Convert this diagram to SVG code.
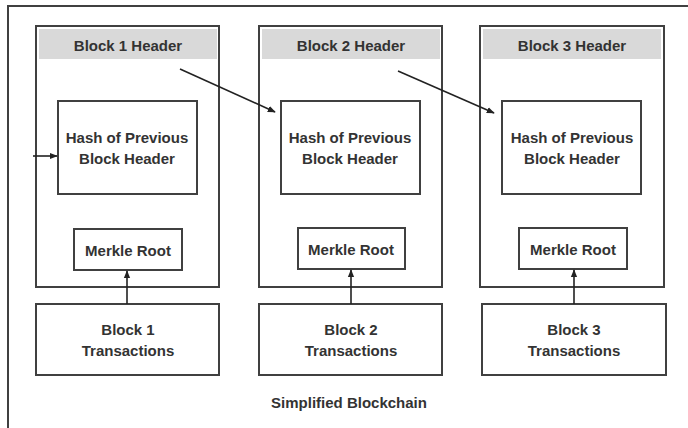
<svg xmlns="http://www.w3.org/2000/svg" width="688" height="428" viewBox="0 0 688 428">
<style>
.box{fill:#fff;stroke:#404040;stroke-width:2}
.hdr{fill:#d9d9d9;stroke:none}
.t{font-family:"Liberation Sans",Arial,sans-serif;font-weight:bold;font-size:15px;fill:#333;text-anchor:middle}
.c{stroke:#222;stroke-width:1.6;fill:none;marker-end:url(#ah)}
</style>
<defs>
<marker id="ah" viewBox="0 0 10 10" refX="9" refY="5" markerWidth="5" markerHeight="5" orient="auto" markerUnits="strokeWidth">
<path d="M0,1 L10,5 L0,9 z" fill="#222"/>
</marker>
</defs>
<rect width="688" height="428" fill="#fff"/>
<path d="M8,440 V6 H700" fill="none" stroke="#404040" stroke-width="2"/>

<g id="block1">
<rect class="box" x="36" y="26" width="183" height="261"/>
<rect class="hdr" x="39" y="29" width="178" height="30"/>
<text class="t" x="128" y="51">Block 1 Header</text>
<g id="hash1"><rect class="box" x="58" y="101" width="139" height="93"/>
<text class="t" x="127" y="143">Hash of Previous</text>
<text class="t" x="127" y="164">Block Header</text></g>
<g id="merkle1"><rect class="box" x="74" y="229" width="108" height="41"/>
<text class="t" x="128" y="256">Merkle Root</text></g>
</g>
<g id="tx1"><rect class="box" x="36" y="304" width="183" height="71"/>
<text class="t" x="128" y="335">Block 1</text>
<text class="t" x="128" y="356">Transactions</text></g>

<g id="block2">
<rect class="box" x="259" y="26" width="183" height="261"/>
<rect class="hdr" x="262" y="29" width="178" height="30"/>
<text class="t" x="351" y="51">Block 2 Header</text>
<g id="hash2"><rect class="box" x="281" y="101" width="139" height="93"/>
<text class="t" x="350" y="143">Hash of Previous</text>
<text class="t" x="350" y="164">Block Header</text></g>
<g id="merkle2"><rect class="box" x="298" y="228" width="107" height="41"/>
<text class="t" x="351" y="255">Merkle Root</text></g>
</g>
<g id="tx2"><rect class="box" x="259" y="304" width="183" height="71"/>
<text class="t" x="351" y="335">Block 2</text>
<text class="t" x="351" y="356">Transactions</text></g>

<g id="block3">
<rect class="box" x="480" y="26" width="184" height="261"/>
<rect class="hdr" x="483" y="29" width="178" height="30"/>
<text class="t" x="572" y="51">Block 3 Header</text>
<g id="hash3"><rect class="box" x="502" y="101" width="139" height="93"/>
<text class="t" x="572" y="143">Hash of Previous</text>
<text class="t" x="572" y="164">Block Header</text></g>
<g id="merkle3"><rect class="box" x="519" y="228" width="108" height="41"/>
<text class="t" x="573" y="255">Merkle Root</text></g>
</g>
<g id="tx3"><rect class="box" x="482" y="304" width="184" height="71"/>
<text class="t" x="574" y="335">Block 3</text>
<text class="t" x="574" y="356">Transactions</text></g>

<text class="t" x="349" y="408">Simplified Blockchain</text>

<g id="connectors">
<line class="c" x1="33" y1="156" x2="57" y2="156"/>
<line class="c" x1="180" y1="69" x2="275" y2="112"/>
<line class="c" x1="398" y1="71" x2="494" y2="113"/>
<line class="c" x1="127" y1="304" x2="127" y2="271"/>
<line class="c" x1="351" y1="304" x2="351" y2="270"/>
<line class="c" x1="574" y1="304" x2="574" y2="270"/>
</g>
</svg>
